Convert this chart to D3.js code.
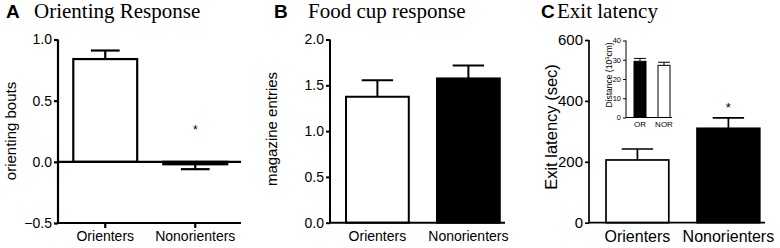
<!DOCTYPE html>
<html>
<head>
<meta charset="utf-8">
<script src="https://cdn.jsdelivr.net/npm/d3@7"></script>
<style>
  body { margin: 0; background: #fff; }
  svg { display: block; }
  text { font-family: "Liberation Sans", Arial, sans-serif; fill: #000; }
  .title { font-family: "Liberation Serif", "Times New Roman", serif; font-size: 21px; }
  .letter { font-weight: bold; font-size: 19px; }
</style>
</head>
<body>
<svg id="chart" width="780" height="248"></svg>
<script>
const categories = ["Orienters", "Nonorienters"]

// panel A
const orientMeans = [0.84, -0.02]
const orientErr = [0.07, 0.04]
const orientTicks = [-0.5, 0.0, 0.5, 1.0]

// panel B
const foodMeans = [1.375, 1.575]
const foodErr = [0.18, 0.14]
const foodTicks = [0.0, 0.5, 1.0, 1.5, 2.0]

// panel C
const exitMeans = [206, 310]
const exitErr = [36, 34]
const exitTicks = [0, 200, 400, 600]

// inset in C
const insetCategories = ["OR", "NOR"]
const insetMeans = [29.2, 27.1]
const insetErr = [1.5, 1.6]
const insetTicks = [0, 10, 20, 30, 40]

const svg = d3.select("#chart")

function panel(opts) {
    const g = svg.append("g")
    const y = d3.scaleLinear().domain(opts.domain).range([opts.bottom, opts.top])
    const x = d3.scaleBand().domain(opts.cats).range([opts.left, opts.right])
        .paddingInner(opts.padIn).paddingOuter(opts.padOut)
    const sw = opts.stroke

    // y axis
    const yAxis = d3.axisLeft(y).tickValues(opts.ticks)
        .tickFormat(opts.fmt).tickSize(opts.tick).tickPadding(2)
    const ya = g.append("g").attr("transform", `translate(${opts.left},0)`).call(yAxis)
    ya.attr("font-family", null).attr("font-size", null)
    ya.select(".domain").attr("stroke", "#000").attr("stroke-width", sw)
        .attr("d", `M0,${opts.bottom}V${opts.top}`)
    ya.selectAll(".tick line").attr("stroke", "#000").attr("stroke-width", sw)
    ya.selectAll(".tick text").style("font-size", opts.fs + "px")

    // bars
    g.selectAll("rect.bar").data(opts.means).join("rect")
        .attr("class", "bar")
        .attr("x", (d, i) => x(opts.cats[i]))
        .attr("width", x.bandwidth())
        .attr("y", d => Math.min(y(d), y(opts.base)))
        .attr("height", d => Math.abs(y(d) - y(opts.base)))
        .attr("fill", (d, i) => opts.fills[i])
        .attr("stroke", "#000").attr("stroke-width", sw)

    // error bars, one-sided away from baseline
    opts.means.forEach((m, i) => {
        const cx = x(opts.cats[i]) + x.bandwidth() / 2
        const end = m >= opts.base ? m + opts.err[i] : m - opts.err[i]
        const half = x.bandwidth() * opts.capFrac / 2
        g.append("line").attr("x1", cx).attr("x2", cx)
            .attr("y1", y(m)).attr("y2", y(end))
            .attr("stroke", "#000").attr("stroke-width", sw)
        g.append("line").attr("x1", cx - half).attr("x2", cx + half)
            .attr("y1", y(end)).attr("y2", y(end))
            .attr("stroke", "#000").attr("stroke-width", sw)
    })

    // x axis
    const xa = g.append("g").attr("transform", `translate(0,${opts.bottom})`)
        .call(d3.axisBottom(x).tickSize(opts.xTick).tickPadding(opts.xPad).tickSizeOuter(0))
    xa.attr("font-family", null).attr("font-size", null)
    xa.select(".domain").attr("stroke", "#000").attr("stroke-width", sw)
        .attr("d", `M${opts.left},0H${opts.axisEnd}`)
    xa.selectAll(".tick line").attr("stroke", "#000").attr("stroke-width", sw)
    xa.selectAll(".tick text").style("font-size", opts.xfs + "px")

    // y title
    if (opts.yTitle) {
        g.append("text")
            .attr("transform", `translate(${opts.yTitleX},${opts.yTitleY}) rotate(-90)`)
            .attr("text-anchor", "middle")
            .style("font-size", opts.yfs + "px")
            .text(opts.yTitle)
    }

    return {x, y, g}
}

// ---- A ----
const A = panel({
    cats: categories, means: orientMeans, err: orientErr, ticks: orientTicks,
    domain: [-0.5, 1.0], top: 39.5, bottom: 223, left: 58, right: 242.5,
    padIn: 0.29, padOut: 0.17, base: 0, fills: ["#fff", "#000"],
    stroke: 2.2, tick: 4, fs: 14, fmt: d3.format(".1f"), capFrac: 0.45,
    xTick: 5, xPad: 3, xfs: 14, axisEnd: 241,
    yTitle: "orienting bouts", yTitleX: 16, yTitleY: 131, yfs: 15
})
// zero line
A.g.append("line").attr("x1", 58).attr("x2", 241)
    .attr("y1", A.y(0)).attr("y2", A.y(0))
    .attr("stroke", "#000").attr("stroke-width", 2.2)
A.g.append("text").attr("x", A.x(categories[1]) + A.x.bandwidth() / 2).attr("y", 134)
    .attr("text-anchor", "middle").style("font-size", "12px").text("*")

// ---- B ----
panel({
    cats: categories, means: foodMeans, err: foodErr, ticks: foodTicks,
    domain: [0, 2.0], top: 39.5, bottom: 222.7, left: 330, right: 515.8,
    padIn: 0.31, padOut: 0.176, base: 0, fills: ["#fff", "#000"],
    stroke: 2, tick: 4, fs: 14, fmt: d3.format(".1f"), capFrac: 0.5,
    xTick: 0, xPad: 8, xfs: 14, axisEnd: 505,
    yTitle: "magazine entries", yTitleX: 277, yTitleY: 129, yfs: 15
})

// ---- C ----
const C = panel({
    cats: categories, means: exitMeans, err: exitErr, ticks: exitTicks,
    domain: [0, 600], top: 40, bottom: 222.7, left: 589, right: 776.8,
    padIn: 0.31, padOut: 0.187, base: 0, fills: ["#fff", "#000"],
    stroke: 1.7, tick: 4, fs: 15, fmt: d3.format("d"), capFrac: 0.5,
    xTick: 0, xPad: 8, xfs: 16, axisEnd: 765,
    yTitle: "Exit latency (sec)", yTitleX: 557, yTitleY: 127, yfs: 16.5
})
C.g.append("text").attr("x", C.x(categories[1]) + C.x.bandwidth() / 2).attr("y", 112)
    .attr("text-anchor", "middle").style("font-size", "13px").text("*")

// inset
const I = panel({
    cats: insetCategories, means: insetMeans, err: insetErr, ticks: insetTicks,
    domain: [0, 40], top: 40.5, bottom: 117.5, left: 626, right: 678,
    padIn: 0.5, padOut: 0.333, base: 0, fills: ["#000", "#fff"],
    stroke: 1, tick: 3, fs: 7.5, fmt: d3.format("d"), capFrac: 1,
    xTick: 0, xPad: 4, xfs: 8, axisEnd: 672,
    yTitle: null
})
const it = I.g.append("text")
    .attr("transform", "translate(612,75) rotate(-90)")
    .attr("text-anchor", "middle").style("font-size", "8.5px")
it.append("tspan").text("Distance  (10")
it.append("tspan").attr("dy", -3.5).style("font-size", "6px").text("3")
it.append("tspan").attr("dy", 3.5).text("cm)")

// panel titles
const titles = [
    {letter: "A", lx: 6, text: "Orienting Response", tx: 34},
    {letter: "B", lx: 274, text: "Food cup response", tx: 308},
    {letter: "C", lx: 541, text: "Exit latency", tx: 557}
]
titles.forEach(t => {
    svg.append("text").attr("class", "letter").attr("x", t.lx).attr("y", 18).text(t.letter)
    svg.append("text").attr("class", "title").attr("x", t.tx).attr("y", 18).text(t.text)
})
</script>
</body>
</html>
